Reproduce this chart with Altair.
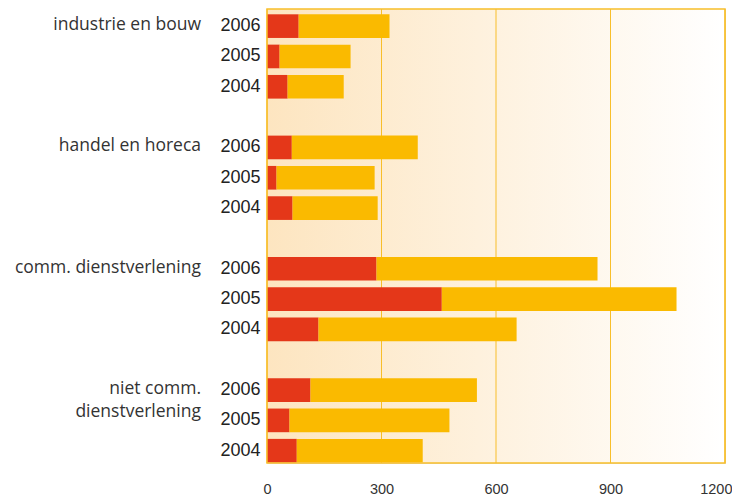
import altair as alt
import pandas as pd

# ---- data ----
sectors = ["industrie en bouw", "handel en horeca", "comm. dienstverlening", "niet comm. dienstverlening"]
years = ["2006", "2005", "2004"]
# red (first) segment per sector, per year (2006, 2005, 2004)
red_values = [
    [83, 33, 54],
    [65, 25, 67],
    [287, 458, 135],
    [114, 59, 78],
]
# orange (second) segment per sector, per year (2006, 2005, 2004)
orange_values = [
    [238, 186, 147],
    [330, 257, 223],
    [579, 615, 519],
    [436, 419, 330],
]
x_ticks = [0, 300, 600, 900, 1200]
label_first_lines = ["industrie en bouw", "handel en horeca", "comm. dienstverlening", "niet comm."]
label_second_lines = ["", "", "", "dienstverlening"]

RED = "#E43719"
ORANGE = "#FABA00"
LINE = "#F8BE2A"

# ---- build tables ----
row_keys = []
for i, s in enumerate(sectors):
    if i > 0:
        row_keys.append(f"gap{i}")
    for y in years:
        row_keys.append(f"{i}|{y}")

rows = []
for i, s in enumerate(sectors):
    for j, y in enumerate(years):
        rows.append({"key": f"{i}|{y}", "seg": "1", "value": red_values[i][j]})
        rows.append({"key": f"{i}|{y}", "seg": "2", "value": orange_values[i][j]})
bars_df = pd.DataFrame(rows)

first_df = pd.DataFrame({"key": [f"{i}|2006" for i in range(len(sectors))], "txt": label_first_lines})
second_df = pd.DataFrame(
    [{"key": f"{i}|2005", "txt": t} for i, t in enumerate(label_second_lines) if t]
)
ticks_df = pd.DataFrame({"value": x_ticks})

W, H = 458, 454

y_scale = alt.Scale(domain=row_keys, paddingInner=0.22, paddingOuter=0.095, align=0.92)
x_scale = alt.Scale(domain=[0, 1200], nice=False)

y_axis = alt.Axis(
    title=None, domain=False, ticks=False, grid=False, labelPadding=7,
    labelFontSize=18, labelColor="#222222", labelFont="Liberation Sans",
    labelExpr="indexof(datum.value, 'gap') == 0 ? '' : split(datum.value, '|')[1]",
)
x_axis = alt.Axis(
    title=None, values=x_ticks, format="d", domain=False, ticks=False, grid=False,
    labelPadding=19, labelFontSize=14.5, labelColor="#333333",
    labelFont="Liberation Sans", labelFlush=False,
    labelAlign=alt.expr("datum.value == 1200 ? 'right' : 'center'"),
    labelOffset=alt.expr("datum.value == 1200 ? 7 : 0"),
)

background = alt.Chart(alt.Data(values=[{}])).mark_rect(
    fill=alt.LinearGradient(
        gradient="linear",
        stops=[alt.GradientStop(offset=0, color="#FDE5C0"), alt.GradientStop(offset=1, color="#FFFFFF")],
        x1=0, x2=1, y1=0, y2=0,
    )
).encode(x=alt.value(0), x2=alt.value("width"), y=alt.value(0), y2=alt.value("height"))

grid = alt.Chart(ticks_df).mark_rule(color=LINE, strokeWidth=1).encode(
    x=alt.X("value:Q", scale=x_scale, axis=x_axis)
)

bars = alt.Chart(bars_df).mark_bar().encode(
    y=alt.Y("key:N", scale=y_scale, sort=row_keys, axis=y_axis),
    x=alt.X("value:Q", stack="zero", scale=x_scale, axis=x_axis),
    color=alt.Color("seg:N", scale=alt.Scale(domain=["1", "2"], range=[RED, ORANGE]), legend=None),
    order=alt.Order("seg:N", sort="ascending"),
)

text1 = alt.Chart(first_df).mark_text(
    align="right", baseline="middle", dy=-1, fontSize=17.5, font="Open Sans", color="#333333"
).encode(y=alt.Y("key:N", scale=y_scale, sort=row_keys, axis=y_axis), x=alt.value(-66), text="txt:N")

text2 = alt.Chart(second_df).mark_text(
    align="right", baseline="middle", dy=-8, fontSize=17.5, font="Open Sans", color="#333333"
).encode(y=alt.Y("key:N", scale=y_scale, sort=row_keys, axis=y_axis), x=alt.value(-66), text="txt:N")

border = alt.Chart(alt.Data(values=[{}])).mark_rect(
    fill="transparent", stroke=LINE, strokeWidth=1.5
).encode(x=alt.value(0), x2=alt.value("width"), y=alt.value(0), y2=alt.value("height"))

chart = alt.layer(background, grid, bars, text1, text2, border).properties(
    width=W,
    height=H,
    autosize=alt.AutoSizeParams(type="none"),
    padding={"left": 259, "top": 1, "right": 7, "bottom": 35},
).configure_view(strokeWidth=0).configure(background="white")

chart.save("out.html", embed_options={"renderer": "svg", "actions": False})
